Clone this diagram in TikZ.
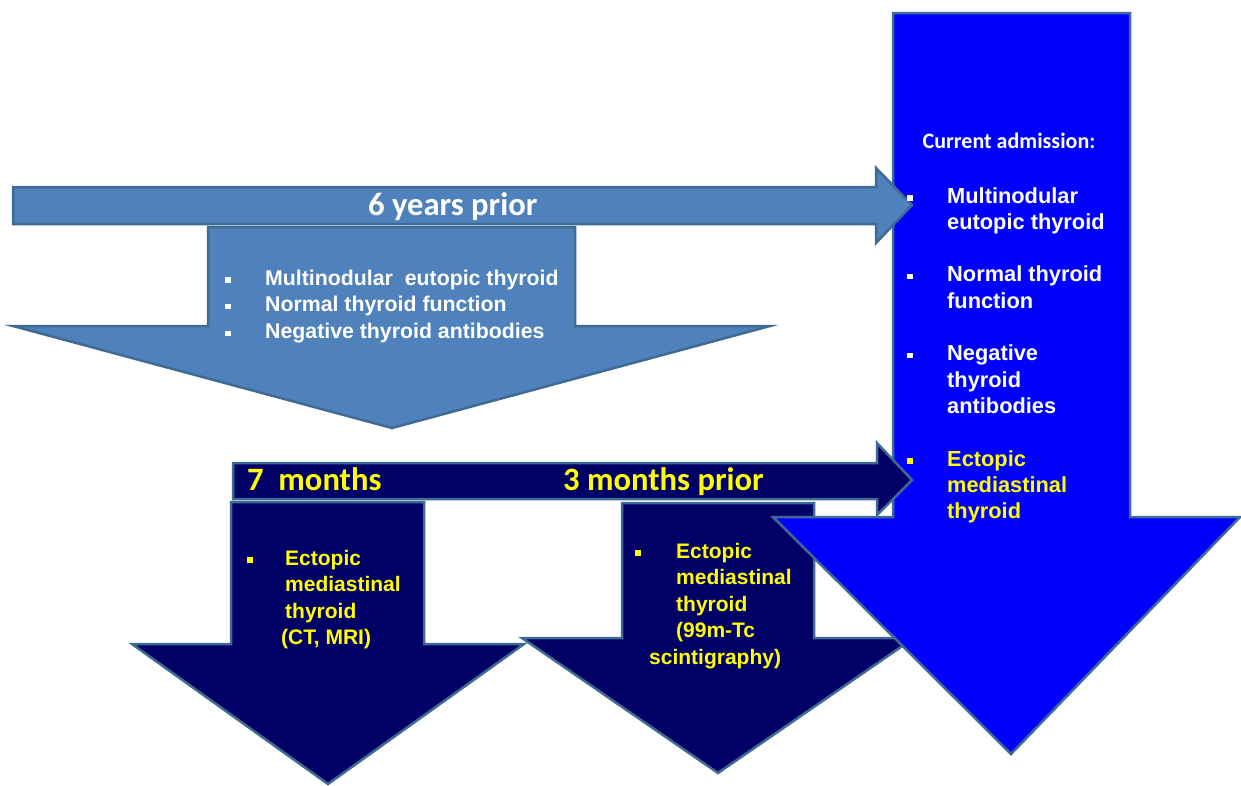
\documentclass[tikz,border=0pt]{standalone}
\usepackage{fontspec}
\setmainfont{Liberation Sans}
\newfontfamily\calibri{Carlito}
\usepackage{xcolor}

\definecolor{steelfill}{HTML}{4F81BD}
\definecolor{edgeblue}{HTML}{3F6A94}
\definecolor{navyfill}{HTML}{000066}
\definecolor{brightblue}{HTML}{0000FF}
\definecolor{hiyellow}{HTML}{FFFF00}

\newcommand{\sqbullet}{\rule[2.5pt]{5.5pt}{5.5pt}}

\tikzstyle{lightarrow} = [draw=edgeblue, line width=2.5pt, fill=steelfill]
\tikzstyle{darkarrow} = [draw=edgeblue, line width=2.5pt, fill=navyfill]
\tikzstyle{bigarrow} = [draw=edgeblue, line width=2.5pt, fill=brightblue]
\tikzstyle{period} = [anchor=base west, inner sep=0pt, font=\calibri\bfseries\fontsize{32.6}{38}\selectfont]
\tikzstyle{findings} = [anchor=base west, inner sep=0pt, align=left, font=\bfseries\fontsize{21}{26.5}\selectfont]

\begin{document}
\begin{tikzpicture}[x=1pt, y=-1pt]
\useasboundingbox (0,0) rectangle (1241,785);

% block arrows, back to front
\draw [lightarrow] (208,227) -- (575,227) -- (575,326) -- (770,326) -- (392,428) -- (13,326) -- (208,326) -- cycle;
\draw [darkarrow] (231,502) -- (424,502) -- (424,644) -- (524,644) -- (328,784) -- (132,644) -- (231,644) -- cycle;
\draw [darkarrow] (622,503) -- (814,503) -- (814,638) -- (914,638) -- (718,773) -- (522,638) -- (622,638) -- cycle;
\draw [bigarrow] (893,13) -- (1130,13) -- (1130,517) -- (1240,517) -- (1011,754) -- (773,517) -- (893,517) -- cycle;
\draw [lightarrow] (13,187) -- (876,187) -- (876,168) -- (912,205) -- (876,243) -- (876,224) -- (13,224) -- cycle;
\draw [darkarrow] (233,463) -- (877,463) -- (877,443) -- (912,480) -- (877,515) -- (877,499) -- (233,499) -- cycle;

% time labels
\node (sixyears) [period, text=white] at (368,215) {6 years prior};
\node (sevenmonths) [period, text=hiyellow] at (247,490) {7\ \ months};
\node (threemonths) [period, text=hiyellow] at (563,490) {3 months prior};

% findings
\node (earlier) [findings, text=white, font=\bfseries\fontsize{21.3}{26.8}\selectfont] at (225,285) {%
\begin{tabular}[t]{@{}p{40pt}@{}l@{}}
\sqbullet & Multinodular\ \ eutopic thyroid\\
\sqbullet & Normal thyroid function\\
\sqbullet & Negative thyroid antibodies
\end{tabular}};

\node (ctmri) [findings, text=hiyellow] at (247,565) {%
\begin{tabular}[t]{@{}p{38pt}@{}l@{}}
\sqbullet & Ectopic\\
 & mediastinal\\
 & thyroid\\
 & \hspace{-4pt}(CT, MRI)
\end{tabular}};

\node (scinti) [findings, text=hiyellow] at (635,558) {%
\begin{tabular}[t]{@{}p{41pt}@{}l@{}}
\sqbullet & Ectopic\\
 & mediastinal\\
 & thyroid\\
 & (99m-Tc\\
 & \hspace{-27pt}scintigraphy)
\end{tabular}};

\node (admission) [inner sep=0pt, anchor=base, text=white, font=\calibri\bfseries\fontsize{22}{26}\selectfont] at (1009,148) {Current admission:};

\node (current) [findings, text=white, font=\bfseries\fontsize{21.8}{26.3}\selectfont] at (907,203) {%
\begin{tabular}[t]{@{}p{40pt}@{}l@{}}
\sqbullet & Multinodular\\
 & eutopic thyroid\\[26.3pt]
\sqbullet & Normal thyroid\\
 & function\\[26.3pt]
\sqbullet & Negative\\
 & thyroid\\
 & antibodies\\[26.3pt]
\textcolor{hiyellow}{\sqbullet} & \textcolor{hiyellow}{Ectopic}\\
 & \textcolor{hiyellow}{mediastinal}\\
 & \textcolor{hiyellow}{thyroid}
\end{tabular}};

\end{tikzpicture}
\end{document}
